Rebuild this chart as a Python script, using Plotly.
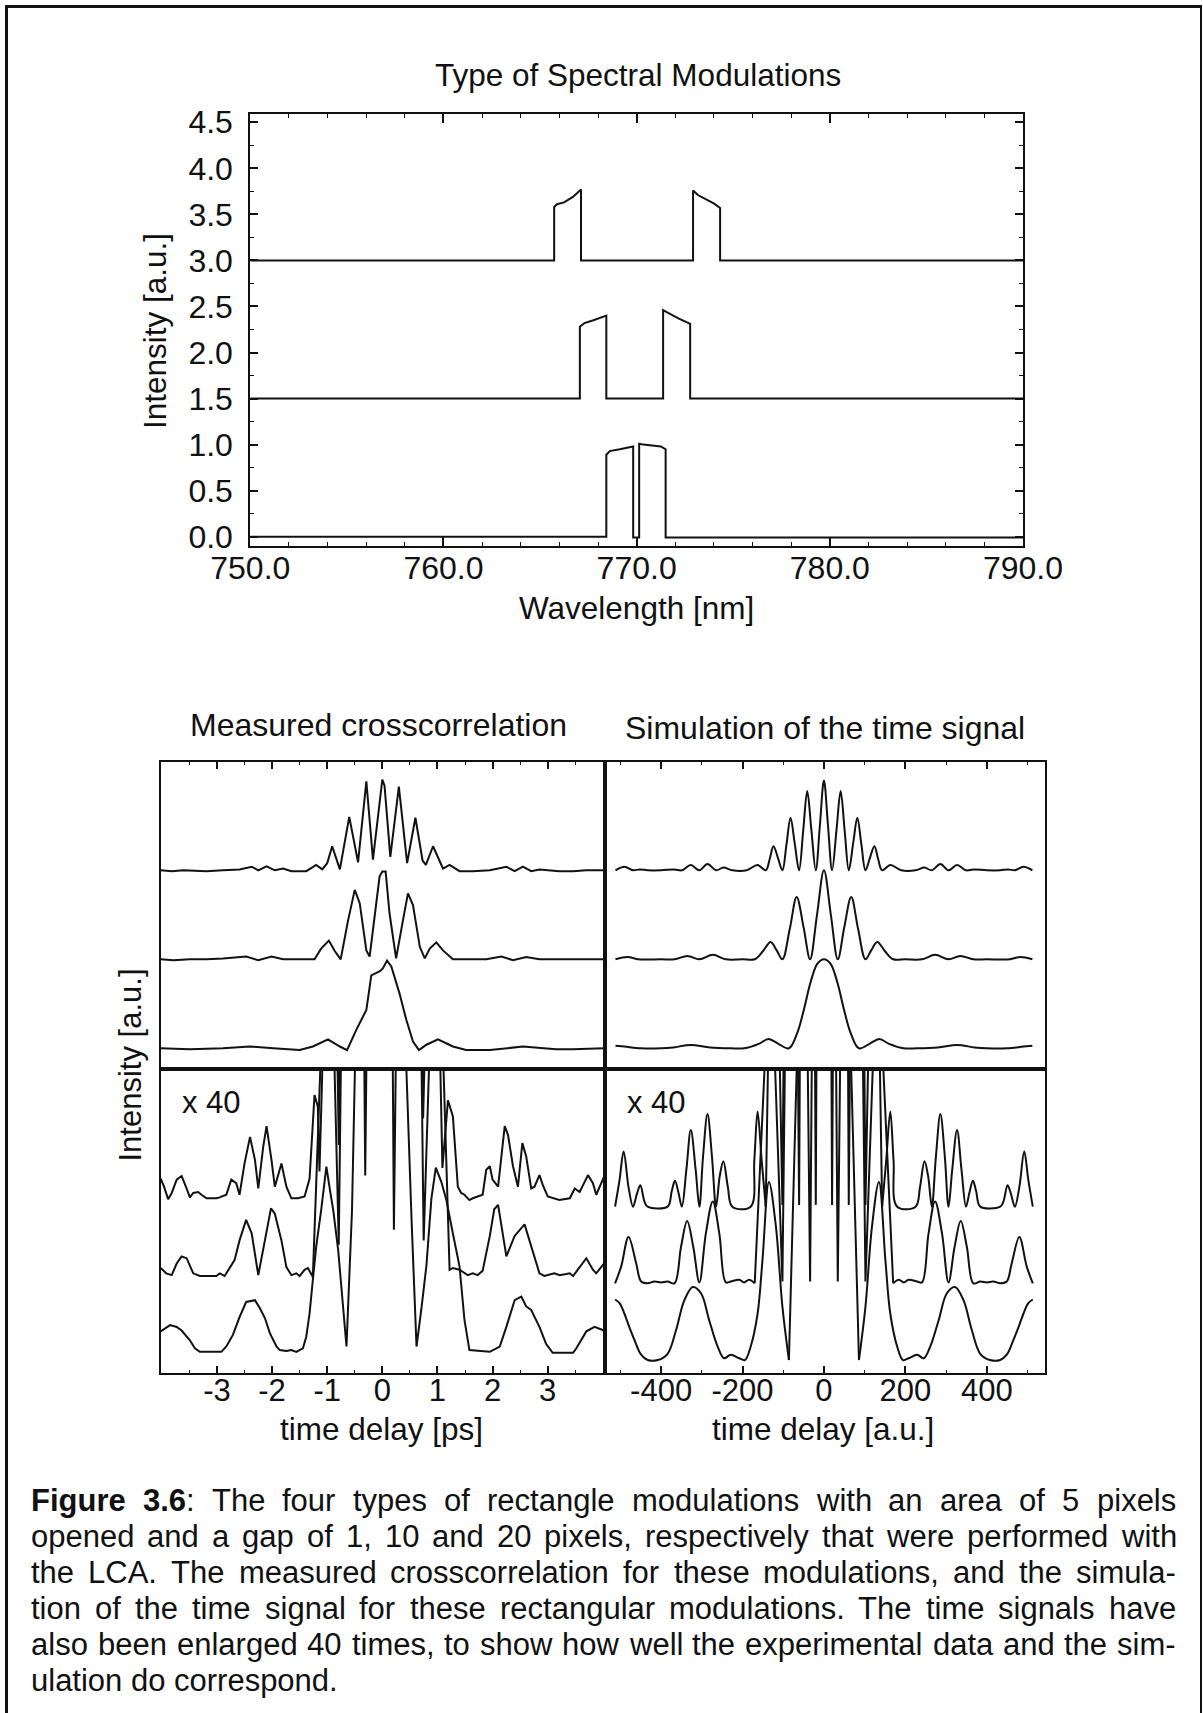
import plotly.graph_objects as go

W, H = 1203, 1713
FONT = "Liberation Sans, Arial, Helvetica, sans-serif"
INK = "#111111"

# ---------------- top chart: spectral modulations ----------------
wl_gap20 = [750.0, 765.73, 765.73, 765.88, 766.24, 766.70, 767.12, 767.12, 772.92, 772.92, 773.17, 773.53, 773.99, 774.32, 774.32, 790.0]
int_gap20 = [3.0, 3.0, 3.58, 3.61, 3.63, 3.69, 3.77, 3.0, 3.0, 3.76, 3.71, 3.67, 3.62, 3.57, 3.0, 3.0]

wl_gap10 = [750.0, 767.06, 767.06, 767.30, 767.76, 768.43, 768.43, 771.37, 771.37, 771.71, 772.16, 772.47, 772.77, 772.77, 790.0]
int_gap10 = [1.5, 1.5, 2.28, 2.32, 2.35, 2.40, 1.5, 1.5, 2.46, 2.42, 2.37, 2.34, 2.31, 1.5, 1.5]

wl_gap1 = [750.0, 768.43, 768.43, 768.61, 769.13, 769.82, 769.82, 770.13, 770.13, 770.35, 770.80, 771.25, 771.50, 771.50, 790.0]
int_gap1 = [0.0, 0.0, 0.89, 0.93, 0.95, 0.98, -0.01, -0.01, 1.01, 1.0, 0.99, 0.98, 0.95, -0.01, -0.01]

wl_ticks = [750, 760, 770, 780, 790]
wl_ticktext = ["750.0", "760.0", "770.0", "780.0", "790.0"]
int_ticks = [0, 0.5, 1.0, 1.5, 2.0, 2.5, 3.0, 3.5, 4.0, 4.5]
int_ticktext = ["0.0", "0.5", "1.0", "1.5", "2.0", "2.5", "3.0", "3.5", "4.0", "4.5"]

# ---------------- measured crosscorrelation (normalised) ----------------
ps_meas_g20 = [-4.02, -3.82, -3.61, -3.19, -2.89, -2.59, -2.37, -2.25, -2.10, -1.95, -1.80, -1.65, -1.38, -1.20, -1.09, -1.00, -0.91, -0.84, -0.77, -0.60, -0.44, -0.29, -0.17, 0.0, 0.04, 0.145, 0.30, 0.45, 0.60, 0.73, 0.79, 0.92, 1.10, 1.22, 1.40, 1.64, 1.95, 2.25, 2.40, 2.55, 2.70, 2.85, 3.21, 3.46, 3.70, 4.02]
I_meas_g20 = [0.0, -0.01, 0.0, -0.01, 0.0, 0.01, 0.04, 0.0, 0.045, 0.0, 0.02, -0.01, -0.01, 0.06, 0.01, 0.08, 0.27, 0.15, 0.01, 0.60, 0.09, 1.00, 0.12, 1.02, 0.95, 0.15, 0.94, 0.08, 0.59, 0.11, 0.06, 0.27, 0.02, 0.06, -0.01, -0.01, 0.0, 0.04, -0.01, 0.04, -0.01, 0.01, -0.01, -0.01, 0.0, 0.0]

ps_meas_g10 = [-4.02, -3.79, -3.49, -3.19, -2.89, -2.47, -2.25, -2.01, -1.80, -1.50, -1.23, -1.11, -0.97, -0.86, -0.755, -0.62, -0.50, -0.41, -0.29, -0.23, -0.14, -0.05, 0.0, 0.06, 0.13, 0.25, 0.375, 0.465, 0.556, 0.68, 0.77, 0.86, 0.98, 1.10, 1.28, 1.64, 1.885, 2.16, 2.37, 2.61, 2.85, 3.46, 4.02]
I_meas_g10 = [0.0, -0.01, 0.0, 0.0, 0.01, 0.03, -0.01, 0.03, 0.0, 0.0, 0.0, 0.12, 0.21, 0.09, 0.0, 0.44, 0.78, 0.63, 0.10, 0.03, 0.48, 0.93, 0.985, 0.985, 0.52, 0.01, 0.44, 0.74, 0.61, 0.14, 0.01, 0.12, 0.19, 0.10, 0.0, 0.0, 0.0, 0.03, -0.01, 0.025, 0.0, 0.0, 0.0]

ps_meas_g1 = [-4.02, -3.49, -2.89, -2.40, -1.98, -1.50, -1.26, -0.985, -0.77, -0.64, -0.47, -0.29, -0.20, -0.14, -0.08, -0.036, 0.012, 0.085, 0.163, 0.31, 0.435, 0.556, 0.665, 0.80, 1.01, 1.28, 1.52, 1.95, 2.55, 3.15, 3.46, 4.02]
I_meas_g1 = [0.0, -0.01, 0.0, 0.02, 0.0, -0.02, 0.02, 0.10, 0.02, -0.02, 0.21, 0.43, 0.82, 0.84, 0.86, 0.87, 0.90, 0.985, 0.92, 0.62, 0.32, 0.075, -0.02, 0.04, 0.10, 0.02, -0.02, -0.02, 0.02, -0.01, -0.01, 0.0]

# measured, enlarged x40 (values above each trace's baseline; clipped peaks estimated)
ps_x40_g20 = [-4.02, -3.96, -3.885, -3.82, -3.73, -3.64, -3.55, -3.49, -3.43, -3.34, -3.28, -3.19, -3.01, -2.95, -2.83, -2.74, -2.65, -2.59, -2.50, -2.40, -2.31, -2.25, -2.16, -2.10, -2.01, -1.95, -1.89, -1.83, -1.74, -1.65, -1.53, -1.41, -1.32, -1.23, -1.17, -1.14, -0.91, -0.79, -0.60, -0.44, -0.29, -0.17, 0.0, 0.145, 0.30, 0.45, 0.60, 0.74, 0.92, 1.09, 1.19, 1.28, 1.37, 1.43, 1.49, 1.58, 1.64, 1.82, 1.885, 1.95, 2.00, 2.10, 2.22, 2.28, 2.37, 2.46, 2.54, 2.61, 2.70, 2.76, 2.85, 2.91, 3.00, 3.21, 3.40, 3.49, 3.58, 3.73, 3.82, 3.88, 4.02]
I_x40_g20 = [0.22, 0.13, -0.01, 0.06, 0.21, 0.25, 0.11, 0.01, 0.06, 0.07, 0.04, 0.0, 0.0, 0.01, 0.04, 0.21, 0.17, 0.04, 0.39, 0.69, 0.43, 0.11, 0.58, 0.81, 0.43, 0.13, 0.26, 0.39, 0.13, 0.0, 0.0, 0.02, 0.22, 1.16, 1.03, 0.30, 5.4, 0.60, 12.0, 1.8, 20.0, 2.4, 20.4, 3.0, 18.8, 1.6, 11.8, 0.90, 5.4, 0.34, 1.10, 0.92, 0.13, 0.06, 0.04, -0.02, 0.0, 0.04, 0.32, 0.36, 0.21, 0.13, 0.81, 0.71, 0.36, 0.13, 0.62, 0.47, 0.11, 0.13, 0.26, 0.15, 0.02, -0.02, 0.0, 0.11, 0.07, 0.26, 0.17, 0.04, 0.24]

ps_x40_g10 = [-4.02, -3.92, -3.82, -3.73, -3.64, -3.55, -3.43, -3.31, -3.01, -2.95, -2.86, -2.68, -2.59, -2.47, -2.37, -2.25, -2.13, -2.02, -1.95, -1.83, -1.74, -1.65, -1.56, -1.50, -1.41, -1.35, -1.26, -0.97, -0.79, -0.50, -0.31, 0.0, 0.21, 0.47, 0.75, 0.98, 1.22, 1.28, 1.40, 1.55, 1.64, 1.73, 1.82, 1.95, 2.03, 2.10, 2.25, 2.40, 2.58, 2.70, 2.85, 2.94, 3.12, 3.22, 3.40, 3.46, 3.58, 3.70, 3.82, 3.88, 4.02]
I_x40_g10 = [0.09, 0.03, 0.01, 0.14, 0.22, 0.20, 0.03, 0.0, 0.0, 0.03, 0.0, 0.18, 0.40, 0.63, 0.48, 0.01, 0.40, 0.76, 0.70, 0.40, 0.10, 0.01, 0.03, 0.0, 0.07, 0.09, -0.01, 5.0, 0.35, 15.6, 1.13, 19.7, 0.52, 14.8, 0.40, 5.0, 0.07, 0.09, 0.07, 0.01, 0.03, 0.01, 0.06, 0.45, 0.75, 0.80, 0.22, 0.45, 0.58, 0.33, 0.03, 0.0, 0.03, 0.01, 0.03, 0.0, 0.10, 0.20, 0.07, 0.03, 0.14]

ps_x40_g1 = [-4.02, -3.85, -3.73, -3.64, -3.49, -3.40, -3.31, -2.92, -2.83, -2.71, -2.59, -2.47, -2.31, -2.22, -2.13, -2.04, -1.92, -1.86, -1.74, -1.65, -1.56, -1.44, -1.38, -1.32, -1.26, -1.20, -1.11, -1.015, -0.955, -0.89, -0.80, -0.72, -0.65, -0.55, -0.44, -0.29, 0.0, 0.31, 0.43, 0.53, 0.62, 0.71, 0.80, 0.89, 0.97, 1.07, 1.16, 1.28, 1.40, 1.49, 1.58, 1.95, 2.13, 2.25, 2.40, 2.52, 2.61, 2.70, 2.85, 2.97, 3.09, 3.46, 3.52, 3.70, 3.85, 4.02]
I_x40_g1 = [0.24, 0.31, 0.29, 0.25, 0.14, 0.05, 0.01, 0.01, 0.07, 0.20, 0.40, 0.57, 0.59, 0.50, 0.39, 0.22, 0.07, 0.03, 0.02, 0.03, 0.01, 0.05, 0.18, 0.44, 0.82, 1.19, 1.60, 2.09, 1.85, 1.60, 1.15, 0.60, 0.07, 1.6, 3.4, 8.6, 18.0, 12.4, 3.3, 1.5, 0.07, 0.5, 0.98, 1.73, 2.08, 1.92, 1.72, 1.34, 0.97, 0.37, 0.03, 0.01, 0.07, 0.29, 0.59, 0.63, 0.52, 0.48, 0.29, 0.10, 0.0, 0.0, 0.05, 0.24, 0.29, 0.25]

# ---------------- simulation of the time signal ----------------
au_sim_g20 = [-512, -490, -469, -453, -433, -400, -367, -349, -327, -306, -286, -265, -247, -225, -190, -163, -143, -133, -124, -113, -102, -92, -82, -72, -61, -51, -41, -31, -20, -10, 0, 10, 20, 31, 41, 51, 61, 72, 82, 92, 102, 113, 124, 133, 143, 163, 190, 225, 247, 265, 286, 306, 327, 349, 367, 400, 433, 453, 469, 490, 512]
I_sim_g20 = [0.0, 0.04, 0.0, 0.01, 0.0, 0.0, 0.01, 0.0, 0.06, 0.0, 0.07, 0.0, 0.03, 0.0, 0.0, 0.06, 0.0, 0.13, 0.27, 0.14, 0.0, 0.29, 0.59, 0.31, 0.0, 0.44, 0.89, 0.46, 0.0, 0.5, 1.01, 0.5, 0.0, 0.46, 0.89, 0.44, 0.0, 0.31, 0.59, 0.29, 0.0, 0.14, 0.27, 0.13, 0.0, 0.06, 0.0, 0.0, 0.03, 0.0, 0.07, 0.0, 0.06, 0.0, 0.01, 0.0, 0.0, 0.01, 0.0, 0.04, 0.0]

au_sim_g10 = [-512, -482, -457, -400, -367, -335, -306, -273, -241, -200, -170, -150, -131, -116, -102, -84, -67, -50, -34, -17, 0, 17, 34, 50, 67, 84, 102, 116, 131, 150, 170, 200, 241, 273, 306, 335, 367, 400, 457, 482, 512]
I_sim_g10 = [0.0, 0.026, 0.0, 0.0, 0.0, 0.037, 0.0, 0.05, 0.0, 0.0, 0.0, 0.09, 0.195, 0.10, 0.0, 0.34, 0.70, 0.36, 0.0, 0.5, 1.0, 0.5, 0.0, 0.36, 0.70, 0.34, 0.0, 0.10, 0.195, 0.09, 0.0, 0.0, 0.0, 0.05, 0.0, 0.037, 0.0, 0.0, 0.0, 0.026, 0.0]

au_sim_g1 = [-512, -490, -449, -400, -370, -327, -280, -229, -196, -160, -136, -112, -86, -65, -49, -33, -16, 0, 16, 33, 49, 65, 86, 112, 136, 160, 196, 229, 280, 327, 370, 400, 449, 490, 512]
I_sim_g1 = [0.03, 0.02, 0.0, 0.0, 0.01, 0.037, 0.01, 0.0, 0.0, 0.05, 0.105, 0.05, 0.0, 0.18, 0.44, 0.74, 0.95, 1.0, 0.95, 0.74, 0.44, 0.18, 0.0, 0.05, 0.105, 0.05, 0.0, 0.0, 0.01, 0.037, 0.01, 0.0, 0.0, 0.02, 0.03]

au_x40_g20 = [-513, -502, -492, -480, -469, -459, -451, -441, -433, -384, -374, -366, -357, -349, -338, -327, -315, -306, -297, -286, -275, -265, -256, -247, -236, -225, -180, -171, -163, -153, -143, -124, -102, -82, -61, -41, -20, 0, 20, 41, 61, 82, 102, 124, 143, 153, 163, 171, 180, 225, 236, 247, 256, 265, 275, 286, 297, 306, 315, 327, 338, 349, 357, 366, 374, 384, 433, 441, 451, 459, 469, 480, 492, 502, 513]
I_x40_sim_g20 = [0.0, 0.30, 0.62, 0.22, 0.0, 0.15, 0.24, 0.06, 0.0, 0.0, 0.17, 0.29, 0.15, 0.0, 0.41, 0.86, 0.41, 0.0, 0.56, 1.04, 0.56, 0.0, 0.34, 0.51, 0.22, 0.0, 0.0, 0.52, 1.07, 0.52, 0.0, 5.4, 0.02, 11.8, 0.02, 17.8, 0.02, 20.2, 0.02, 17.8, 0.02, 11.8, 0.02, 5.4, 0.0, 0.52, 1.07, 0.52, 0.0, 0.0, 0.22, 0.51, 0.34, 0.0, 0.56, 1.04, 0.56, 0.0, 0.41, 0.86, 0.41, 0.0, 0.15, 0.29, 0.17, 0.0, 0.0, 0.06, 0.24, 0.15, 0.0, 0.22, 0.62, 0.30, 0.0]

au_x40_g10 = [-513, -498, -480, -461, -449, -433, -416, -400, -384, -367, -351, -336, -321, -306, -290, -273, -257, -241, -229, -208, -196, -184, -170, -131, -102, -67, -34, 0, 34, 67, 102, 131, 170, 184, 196, 208, 229, 241, 257, 273, 290, 306, 321, 336, 351, 367, 384, 400, 416, 433, 449, 461, 480, 498, 513]
I_x40_sim_g10 = [0.0, 0.19, 0.52, 0.22, 0.02, 0.0, 0.02, 0.01, 0.02, 0.0, 0.41, 0.70, 0.41, 0.01, 0.56, 0.92, 0.56, 0.01, 0.02, 0.04, 0.01, 0.04, 0.0, 3.9, 0.02, 14.0, 0.02, 20.0, 0.02, 14.0, 0.02, 3.9, 0.0, 0.04, 0.01, 0.04, 0.02, 0.01, 0.56, 0.92, 0.56, 0.01, 0.41, 0.70, 0.41, 0.0, 0.02, 0.01, 0.02, 0.0, 0.02, 0.22, 0.52, 0.19, 0.0]

au_x40_g1 = [-513, -502, -490, -478, -465, -449, -433, -408, -384, -363, -343, -322, -302, -282, -261, -245, -229, -208, -194, -180, -163, -151, -135, -118, -102, -86, -65, -49, 0, 49, 65, 86, 102, 118, 135, 151, 163, 180, 194, 208, 229, 245, 261, 282, 302, 322, 343, 363, 384, 408, 433, 449, 465, 478, 490, 502, 513]
I_x40_sim_g1 = [0.68, 0.64, 0.52, 0.37, 0.22, 0.06, 0.0, 0.0, 0.07, 0.34, 0.67, 0.82, 0.75, 0.45, 0.15, 0.02, 0.06, 0.02, 0.0, 0.15, 0.52, 1.12, 2.0, 1.5, 0.6, 0.0, 3.6, 8.8, 20.0, 8.8, 3.6, 0.0, 0.6, 1.5, 2.0, 1.12, 0.52, 0.15, 0.0, 0.02, 0.06, 0.02, 0.15, 0.45, 0.75, 0.82, 0.67, 0.34, 0.07, 0.0, 0.0, 0.06, 0.22, 0.37, 0.52, 0.64, 0.68]

ps_ticks = [-3, -2, -1, 0, 1, 2, 3]
ps_ticktext = ["-3", "-2", "-1", "0", "1", "2", "3"]
au_ticks = [-400, -200, 0, 200, 400]
au_ticktext = ["-400", "-200", "0", "200", "400"]

caption_lines = [
    "<b>Figure</b> <b>3.6</b>: The four types of rectangle modulations with an area of 5 pixels",
    "opened and a gap of 1, 10 and 20 pixels, respectively that were performed with",
    "the LCA. The measured crosscorrelation for these modulations, and the simula-",
    "tion of the time signal for these rectangular modulations. The time signals have",
    "also been enlarged 40 times, to show how well the experimental data and the sim-",
    "ulation do correspond.",
]

# ---------------- helpers ----------------
def px(x):
    return x / W


def py(y):
    return 1 - y / H


fig = go.Figure()


def add_line(x, y, xa, ya, shape="linear", width=2.0):
    fig.add_trace(go.Scatter(x=list(x), y=list(y), xaxis=xa, yaxis=ya, mode="lines",
                             line=dict(color=INK, width=width, shape=shape),
                             hoverinfo="skip", showlegend=False))


def shifted(vals, off):
    return [v + off for v in vals]


def add_sim_x40(t, v, off, b, xa, ya):
    # smooth side lobes, straight narrow clipped centre
    left = [(a, c) for a, c in zip(t, v) if a <= -b]
    mid = [(a, c) for a, c in zip(t, v) if -b <= a <= b]
    right = [(a, c) for a, c in zip(t, v) if a >= b]
    for seg, shp in ((left, "spline"), (mid, "linear"), (right, "spline")):
        add_line([s[0] for s in seg], shifted([s[1] for s in seg], off), xa, ya, shp, 2.0)


# top chart
add_line(wl_gap20, int_gap20, "x", "y", width=2.0)
add_line(wl_gap10, int_gap10, "x", "y", width=2.0)
add_line(wl_gap1, int_gap1, "x", "y", width=2.0)

# measured, upper
add_line(ps_meas_g20, shifted(I_meas_g20, 2.0), "x2", "y2")
add_line(ps_meas_g10, shifted(I_meas_g10, 1.0), "x2", "y2")
add_line(ps_meas_g1, shifted(I_meas_g1, 0.0), "x2", "y2")
# measured, x40
add_line(ps_x40_g20, shifted(I_x40_g20, 1.735), "x3", "y3")
add_line(ps_x40_g10, shifted(I_x40_g10, 0.862), "x3", "y3")
add_line(ps_x40_g1, shifted(I_x40_g1, 0.0), "x3", "y3")
# simulated, upper
add_line(au_sim_g20, shifted(I_sim_g20, 2.0), "x4", "y4", "spline")
add_line(au_sim_g10, shifted(I_sim_g10, 1.0), "x4", "y4", "spline")
add_line(au_sim_g1, shifted(I_sim_g1, 0.0), "x4", "y4", "spline")
# simulated, x40
add_sim_x40(au_x40_g20, I_x40_sim_g20, 1.723, 143, "x5", "y5")
add_sim_x40(au_x40_g10, I_x40_sim_g10, 0.862, 170, "x5", "y5")
add_sim_x40(au_x40_g1, I_x40_sim_g1, 0.0, 86, "x5", "y5")

# ---------------- axes ----------------
base = dict(showgrid=False, zeroline=False, showline=True, linecolor=INK, linewidth=2, automargin=False,
            tickcolor=INK, tickwidth=1.5, tickfont=dict(family=FONT, size=32, color=INK))

xL = [px(160.7), px(604.5)]
xR = [px(604.5), px(1045)]
yU = [py(1068.5), py(761.7)]
yD = [py(1373.3), py(1068.5)]
bottom_font = dict(family=FONT, size=31, color=INK)

layout_axes = dict(
    xaxis=dict(base, domain=[px(250.3), px(1023)], anchor="y", range=[750, 790],
               ticks="inside", ticklen=9, mirror="ticks", tickvals=wl_ticks, ticktext=wl_ticktext,
               ticklabelstandoff=-7,
               minor=dict(tickmode="array", tickvals=[752, 754, 756, 758, 762, 764, 766, 768, 772, 774, 776, 778, 782, 784, 786, 788],
                          ticks="inside", ticklen=4, tickcolor=INK, tickwidth=1.2)),
    yaxis=dict(base, domain=[py(546), py(114)], anchor="x", range=[-0.101, 4.59],
               ticks="inside", ticklen=8, mirror="ticks", tickvals=int_ticks, ticktext=int_ticktext,
               ticklabelstandoff=9,
               minor=dict(tickmode="array", tickvals=[0.25, 0.75, 1.25, 1.75, 2.25, 2.75, 3.25, 3.75, 4.25],
                          ticks="inside", ticklen=4, tickcolor=INK, tickwidth=1.2)),
    xaxis2=dict(base, domain=xL, anchor="y2", range=[-4.02, 4.03], side="top", mirror=True,
                ticks="inside", ticklen=7, tickvals=ps_ticks, showticklabels=False,
                minor=dict(tickmode="array", tickvals=[-3.5, -2.5, -1.5, -0.5, 0.5, 1.5, 2.5, 3.5],
                           ticks="inside", ticklen=3.5, tickcolor=INK, tickwidth=1.2)),
    yaxis2=dict(base, domain=yU, anchor="x2", range=[-0.227, 3.22], mirror=True, ticks="", showticklabels=False),
    xaxis3=dict(base, domain=xL, anchor="y3", range=[-4.02, 4.03], mirror=True,
                ticks="inside", ticklen=7, tickvals=ps_ticks, ticktext=ps_ticktext, ticklabelstandoff=-12,
                tickfont=bottom_font,
                minor=dict(tickmode="array", tickvals=[-3.5, -2.5, -1.5, -0.5, 0.5, 1.5, 2.5, 3.5],
                           ticks="inside", ticklen=3.5, tickcolor=INK, tickwidth=1.2)),
    yaxis3=dict(base, domain=yD, anchor="x3", range=[-0.231, 3.193], mirror=True, ticks="", showticklabels=False),
    xaxis4=dict(base, domain=xR, anchor="y4", range=[-539, 543], side="top", mirror=True,
                ticks="inside", ticklen=7, tickvals=au_ticks, showticklabels=False,
                minor=dict(tickmode="array", tickvals=[-500, -300, -100, 100, 300, 500],
                           ticks="inside", ticklen=3.5, tickcolor=INK, tickwidth=1.2)),
    yaxis4=dict(base, domain=yU, anchor="x4", range=[-0.227, 3.22], mirror=True, ticks="", showticklabels=False),
    xaxis5=dict(base, domain=xR, anchor="y5", range=[-539, 543], mirror=True,
                ticks="inside", ticklen=7, tickvals=au_ticks, ticktext=au_ticktext, ticklabelstandoff=-12,
                tickfont=bottom_font,
                minor=dict(tickmode="array", tickvals=[-500, -300, -100, 100, 300, 500],
                           ticks="inside", ticklen=3.5, tickcolor=INK, tickwidth=1.2)),
    yaxis5=dict(base, domain=yD, anchor="x5", range=[-0.149, 3.275], mirror=True, ticks="", showticklabels=False),
)

# ---------------- text ----------------
ann = []


def text(s, x, y, size, angle=0, xanchor="center"):
    ann.append(dict(text=s, x=px(x), y=py(y), xref="paper", yref="paper", showarrow=False,
                    xanchor=xanchor, yanchor="middle", textangle=angle,
                    font=dict(family=FONT, size=size, color=INK)))


text("Type of Spectral Modulations", 638, 75, 31.5)
text("Wavelength [nm]", 636.5, 608, 31.5)
text("Intensity [a.u.]", 155, 331, 31.5, angle=-90)
text("Measured crosscorrelation", 378.3, 725, 32)
text("Simulation of the time signal", 824.5, 728, 32)
text("x 40", 211.7, 1102, 31)
text("x 40", 656.7, 1102, 31)
text("time delay [ps]", 381.7, 1429, 31.5)
text("time delay [a.u.]", 823.3, 1429, 31.5)
text("Intensity [a.u.]", 129.5, 1065, 31, angle=-90)

# justified caption (Arial / Liberation Sans advance widths, 1/1000 em)
REG = dict(zip("abcdefghijklmnopqrstuvwxyz", [556, 556, 500, 556, 556, 278, 556, 556, 222, 222, 500, 222, 833, 556, 556, 556, 556, 333, 500, 278, 556, 500, 722, 500, 500, 500]))
REG.update({"A": 667, "C": 722, "F": 611, "L": 556, "T": 611, ",": 278, ".": 278, ":": 278, "-": 333, " ": 278})
REG.update({d: 556 for d in "0123456789"})
BOLD = dict(REG)
BOLD.update({"i": 278, "g": 611, "u": 611, "r": 389})

CAP_SIZE = 31
CAP_LEFT, CAP_RIGHT = 29, 1174


def word_width(w):
    bold = False
    total = 0
    i = 0
    while i < len(w):
        if w.startswith("<b>", i):
            bold = True
            i += 3
            continue
        if w.startswith("</b>", i):
            bold = False
            i += 4
            continue
        total += (BOLD if bold else REG).get(w[i], 556)
        i += 1
    return total / 1000 * CAP_SIZE


for k, line in enumerate(caption_lines):
    words = line.split(" ")
    widths = [word_width(w) for w in words]
    cy = 1500 + 36 * k
    if k < len(caption_lines) - 1:
        gap = (CAP_RIGHT - CAP_LEFT - sum(widths)) / (len(words) - 1)
    else:
        gap = 0.278 * CAP_SIZE
    xpos = CAP_LEFT
    for w, wd in zip(words, widths):
        text(w, xpos, cy, CAP_SIZE, xanchor="left")
        xpos += wd + gap

# page frame
shapes = [
    dict(type="line", xref="paper", yref="paper", x0=px(6.5), x1=px(6.5), y0=py(5), y1=0, line=dict(color=INK, width=3)),
    dict(type="line", xref="paper", yref="paper", x0=px(5), x1=px(1201.5), y0=py(6.5), y1=py(6.5), line=dict(color=INK, width=3)),
    dict(type="line", xref="paper", yref="paper", x0=px(1201), x1=px(1201), y0=py(5), y1=0, line=dict(color=INK, width=2)),
]

fig.update_layout(
    template="none",
    width=W, height=H, margin=dict(l=0, r=0, t=0, b=0, pad=0), autosize=False,
    paper_bgcolor="white", plot_bgcolor="white",
    font=dict(family=FONT, color=INK),
    showlegend=False, annotations=ann, shapes=shapes,
    **layout_axes,
)

fig.write_html("out.html")
